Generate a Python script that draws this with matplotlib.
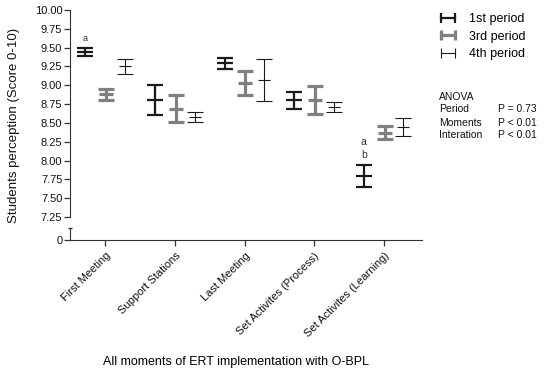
import matplotlib
matplotlib.use("Agg")
import matplotlib.pyplot as plt
from matplotlib.lines import Line2D
import numpy as np

plt.rcParams['font.family'] = ['Liberation Sans', 'DejaVu Sans']

# ---- data ----
categories = ["First Meeting", "Support Stations", "Last Meeting",
              "Set Activites (Process)", "Set Activites (Learning)"]
series_names = ["1st period", "3rd period", "4th period"]
mean_1st = [9.44, 8.80, 9.29, 8.80, 7.79]
err_1st = [0.05, 0.20, 0.075, 0.115, 0.145]
mean_3rd = [8.88, 8.69, 9.03, 8.80, 8.37]
err_3rd = [0.075, 0.175, 0.155, 0.185, 0.09]
mean_4th = [9.25, 8.58, 9.07, 8.71, 8.44]
err_4th = [0.105, 0.065, 0.285, 0.065, 0.12]
yticks_top = [7.25, 7.50, 7.75, 8.00, 8.25, 8.50, 8.75, 9.00, 9.25, 9.50, 9.75, 10.00]
anova_labels = ["Period", "Moments", "Interation"]
anova_values = ["P = 0.73", "P < 0.01", "P < 0.01"]

W, H = 546, 374
fig = plt.figure(figsize=(W / 100, H / 100), dpi=100)


def rect(l, t, r, b):
    return [l / W, 1 - b / H, (r - l) / W, (b - t) / H]


ax1 = fig.add_axes(rect(70, 10, 422, 217))
ax2 = fig.add_axes(rect(70, 228, 422, 240))

xlim = (0.49, 5.547)
k = np.arange(1, len(categories) + 1)
offsets = [-0.29, 0.01, 0.28]
styles = [
    dict(color='#1a1a1a', lw=1.6, cap=5.5, mw=11),
    dict(color='#808080', lw=2.3, cap=5.8, mw=10),
    dict(color='#1a1a1a', lw=0.8, cap=5.5, mw=9),
]
means = [mean_1st, mean_3rd, mean_4th]
errs = [err_1st, err_3rd, err_4th]

for m, e, off, st in zip(means, errs, offsets, styles):
    xs = k + off
    eb = ax1.errorbar(xs, m, yerr=e, fmt='_', color=st['color'], ecolor=st['color'],
                      elinewidth=st['lw'], capsize=st['cap'], capthick=st['lw'],
                      markersize=st['mw'], markeredgewidth=st['lw'], clip_on=False)
    for art in list(eb.lines[1]) + list(eb.lines[2]):
        art.set_clip_on(False)

# significance letters
x_fm = 1 + offsets[0]
ax1.annotate("a", (x_fm, mean_1st[0] + err_1st[0]), xytext=(0, 4), textcoords='offset points',
             ha='center', va='bottom', fontsize=6.5, color='#333333')
x_sl = 5 + offsets[0]
ax1.annotate("b", (x_sl, mean_1st[4] + err_1st[4]), xytext=(0, 4), textcoords='offset points',
             ha='center', va='bottom', fontsize=7.5, color='#333333')
ax1.annotate("a", (x_sl, mean_1st[4] + err_1st[4]), xytext=(0, 13.5), textcoords='offset points',
             ha='center', va='bottom', fontsize=7.5, color='#333333')

spine_c = '#333333'
for ax in (ax1, ax2):
    ax.set_xlim(*xlim)
    ax.spines['top'].set_visible(False)
    ax.spines['right'].set_visible(False)
    ax.spines['left'].set_color(spine_c)
    ax.spines['bottom'].set_color(spine_c)
    ax.tick_params(colors=spine_c, labelcolor='#111111', labelsize=8, length=4, width=0.9)
    ax.patch.set_visible(False)

ax1.spines['bottom'].set_visible(False)
ax1.set_xticks([])
ax1.set_ylim(7.25, 10.0)
ax1.set_yticks(yticks_top)
ax1.set_yticklabels([f"{v:.2f}" for v in yticks_top])
ax1.tick_params(axis='y', pad=1.5)

ax2.set_ylim(0, 1)
ax2.set_yticks([0])
ax2.set_yticklabels(["0"])
ax2.tick_params(axis='y', pad=1.5)
ax2.plot([xlim[0]], [1], marker='_', markersize=3.5, color=spine_c, mew=1.0, clip_on=False)
ax2.set_xticks(k)
ax2.set_xticklabels(categories, rotation=45, ha='right', va='top',
                    rotation_mode='anchor', fontsize=8)
ax2.set_xlabel("All moments of ERT implementation with O-BPL", fontsize=9)
ax2.xaxis.set_label_coords((236 - 70) / 352, 1 - (362 - 228) / 12 - 0.0, transform=None)
ax2.xaxis.label.set_va('center')
ax2.xaxis.label.set_position((0, 0))
ax2.xaxis.label.set_transform(fig.transFigure)
ax2.xaxis.label.set_x(236 / W)
ax2.xaxis.label.set_y(1 - 362 / H)

fig.text(14 / W, 1 - 125 / H, "Students perception (Score 0-10)", rotation=90,
         ha='center', va='center', fontsize=9.5, color='#111111')

# legend
handles = [Line2D([], [], color=st['color'], lw=st['lw'], marker='|', markersize=7,
                  markeredgewidth=st['lw']) for st in styles]
fig.legend(handles, series_names, loc='upper left', bbox_to_anchor=(437 / W, 1 - 13 / H),
           frameon=False, fontsize=9, numpoints=2, handlelength=1.7, handletextpad=0.85,
           labelspacing=0.45, borderaxespad=0, borderpad=0)

# ANOVA block
fig.text(439 / W, 1 - 97 / H, "ANOVA", fontsize=7.5, va='center', ha='left', color='#111111')
for i, (lab, val) in enumerate(zip(anova_labels, anova_values)):
    y = 1 - (109.5 + 13 * i) / H
    fig.text(439 / W, y, lab, fontsize=7.5, va='center', ha='left', color='#111111')
    fig.text(498 / W, y, val, fontsize=7.5, va='center', ha='left', color='#111111')

fig.savefig("out.png", dpi=100)
